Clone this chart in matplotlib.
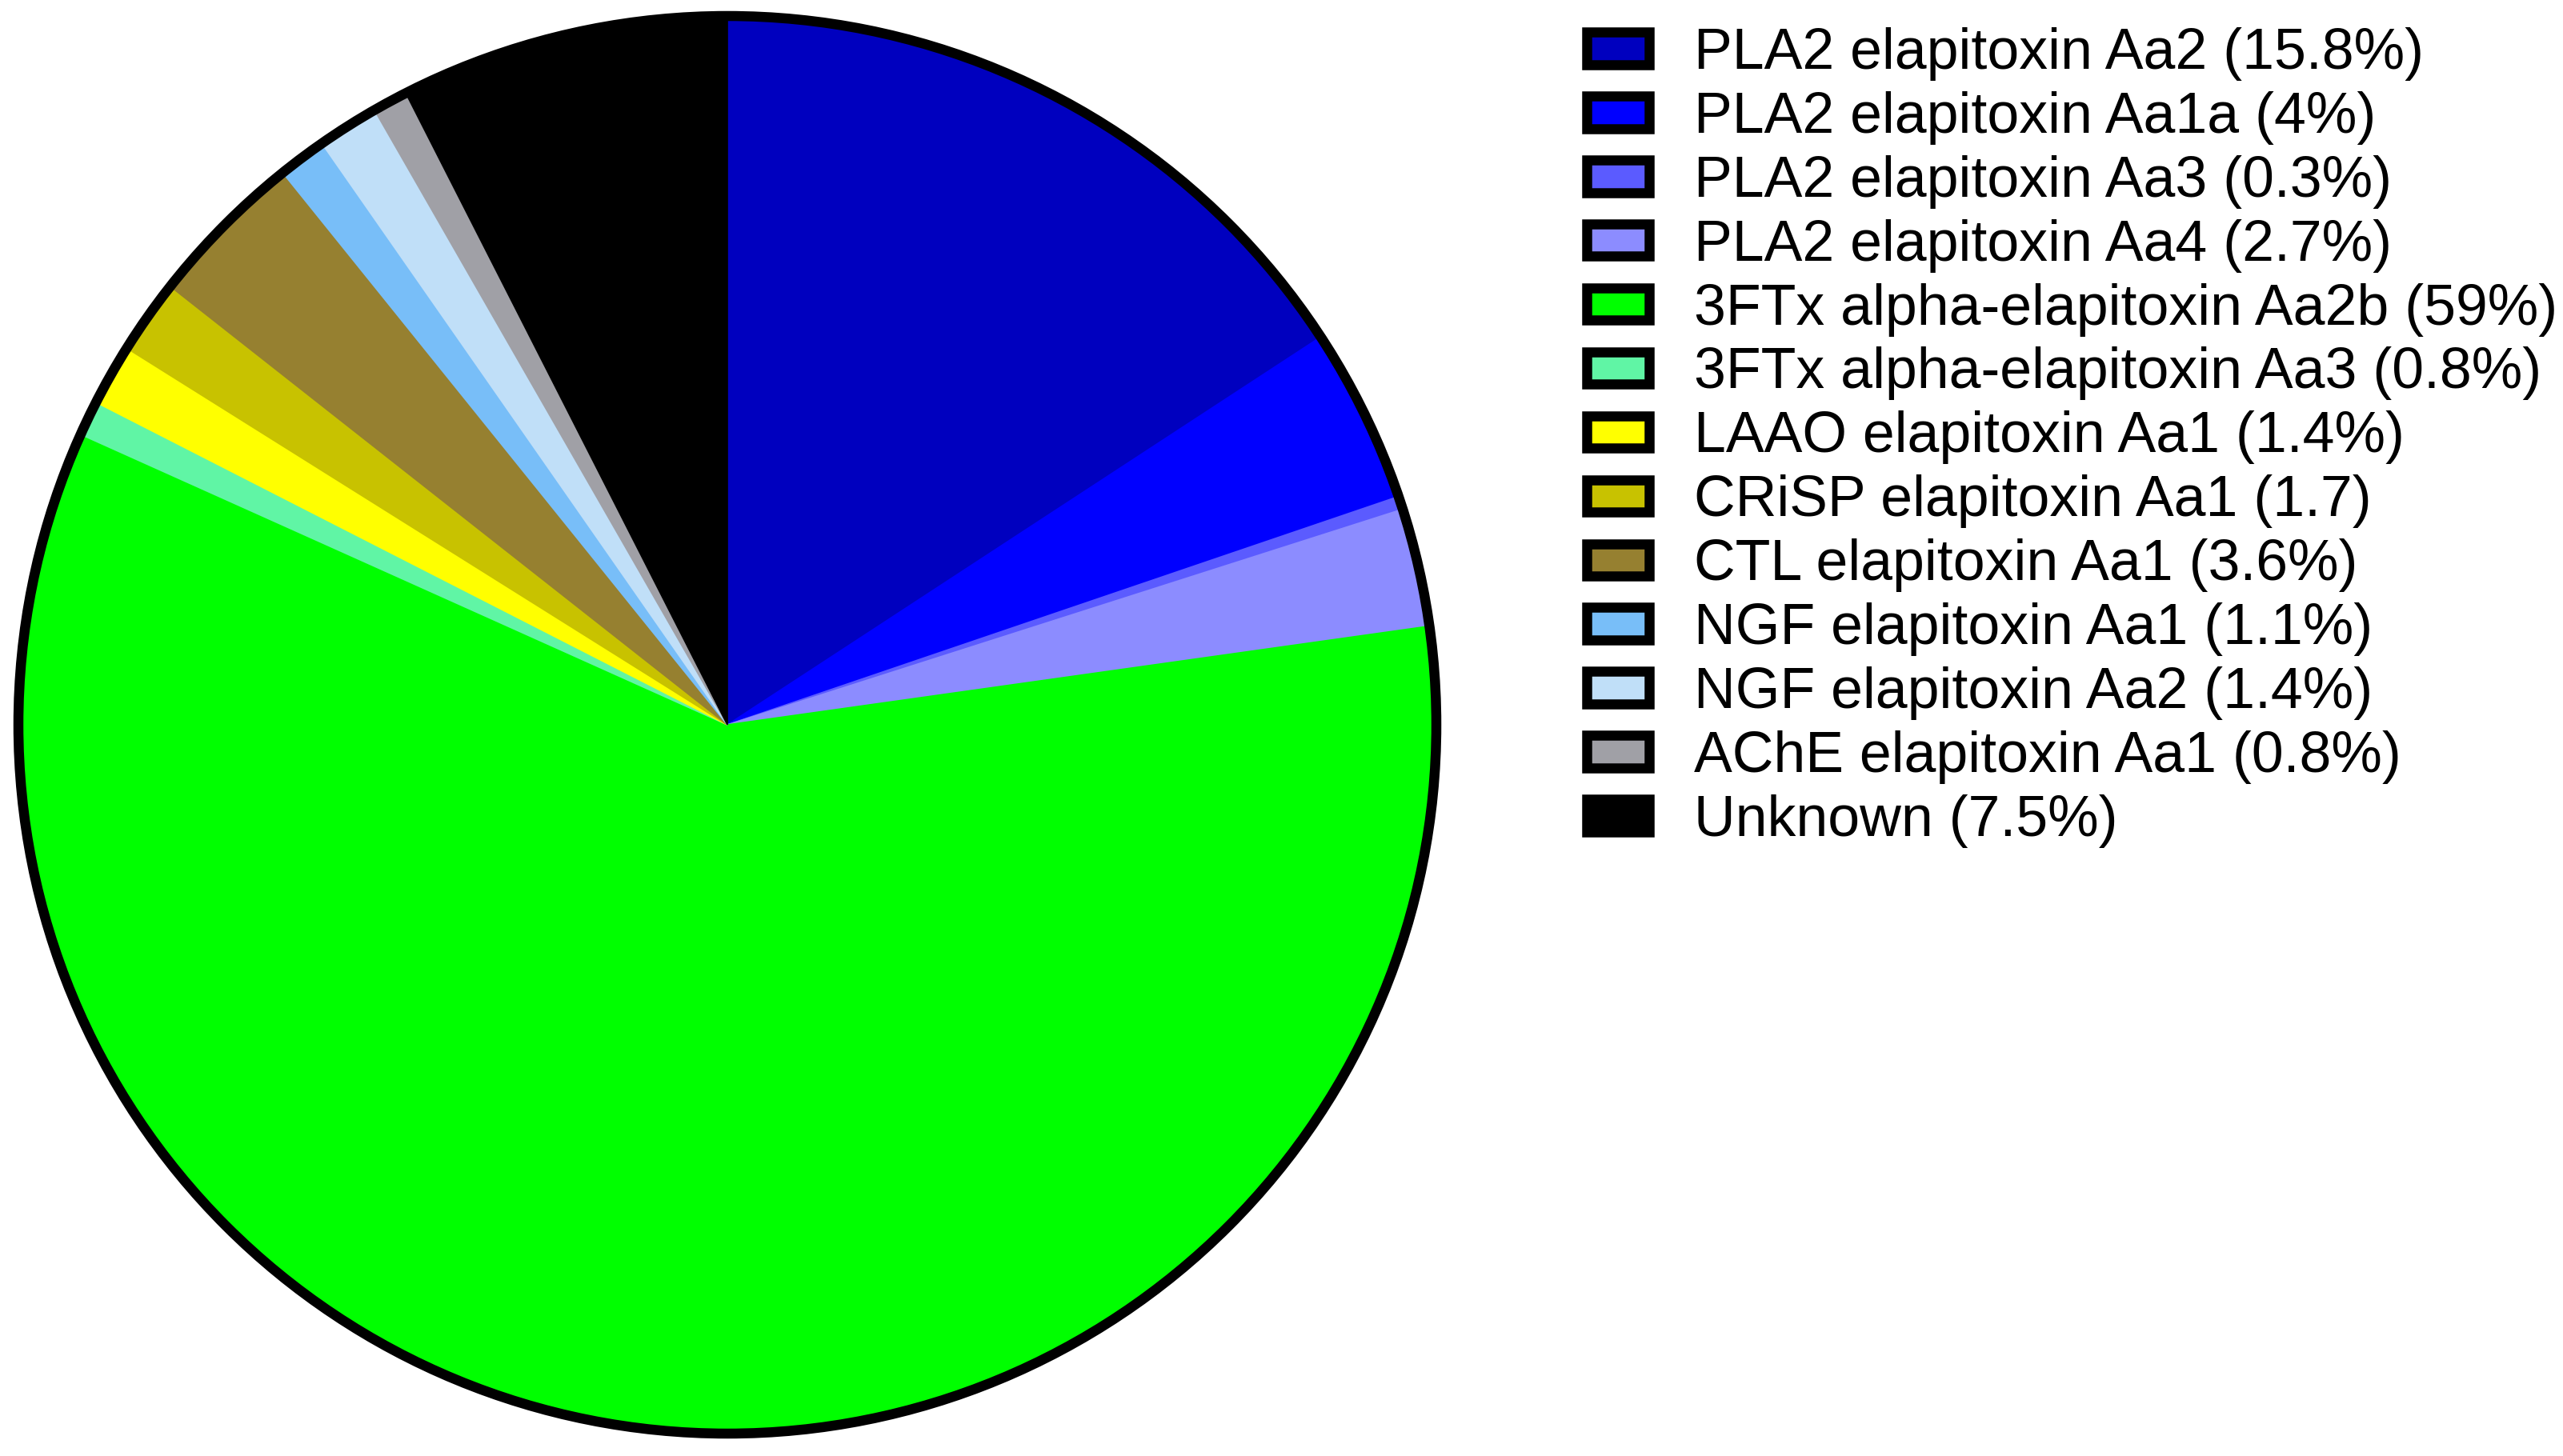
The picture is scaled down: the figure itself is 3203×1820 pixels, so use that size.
"""Venom composition pie chart"""

import matplotlib
matplotlib.use('Agg')
from matplotlib import pyplot as plt
from matplotlib.patches import Circle, Patch

plt.rcParams['font.family'] = ['Liberation Sans', 'DejaVu Sans']

labels = ['PLA2 elapitoxin Aa2 (15.8%)',
          'PLA2 elapitoxin Aa1a (4%)',
          'PLA2 elapitoxin Aa3 (0.3%)',
          'PLA2 elapitoxin Aa4 (2.7%)',
          '3FTx alpha-elapitoxin Aa2b (59%)',
          '3FTx alpha-elapitoxin Aa3 (0.8%)',
          'LAAO elapitoxin Aa1 (1.4%)',
          'CRiSP elapitoxin Aa1 (1.7)',
          'CTL elapitoxin Aa1 (3.6%)',
          'NGF elapitoxin Aa1 (1.1%)',
          'NGF elapitoxin Aa2 (1.4%)',
          'AChE elapitoxin Aa1 (0.8%)',
          'Unknown (7.5%)']
values = [15.8, 4, 0.3, 2.7, 59, 0.8, 1.4, 1.7, 3.6, 1.1, 1.4, 0.8, 7.5]
colors = ['#0000BF', '#0000FF', '#5B5BFF', '#8C8CFF', '#00FF00', '#60F5A5',
          '#FFFF00', '#C8C200', '#968030', '#78BEF8', '#C0DFF8', '#A0A0A6',
          '#000000']

W, H, dpi = 3203, 1820, 200
fig = plt.figure(figsize=(W / dpi, H / dpi), dpi=dpi)

# pie centre and radius in pixels
cx, cy, r = 909, 906, 886
ax = fig.add_axes([(cx - r) / W, (H - cy - r) / H, 2 * r / W, 2 * r / H])

wedges, _ = ax.pie(values, colors=colors, startangle=90, counterclock=False,
                   radius=1, wedgeprops={'linewidth': 0.6})
for w in wedges:
    w.set_edgecolor(w.get_facecolor())
ax.add_patch(Circle((0, 0), 1, fill=False, edgecolor='black', lw=4.5,
                    clip_on=False, zorder=5))
ax.set_xlim(-1, 1)
ax.set_ylim(-1, 1)
ax.set_aspect('equal')
ax.axis('off')

fs = 25.8
handles = [Patch(facecolor=c, edgecolor='black', linewidth=4.5) for c in colors]
fig.legend(handles, labels, loc='upper left',
           bbox_to_anchor=(1983 / W, 1 - 34 / H), frameon=False,
           fontsize=fs, borderpad=0, borderaxespad=0,
           handlelength=1.09, handleheight=0.49,
           handletextpad=0.78, labelspacing=0.18)

fig.savefig('out.png', dpi=dpi, facecolor='white')
